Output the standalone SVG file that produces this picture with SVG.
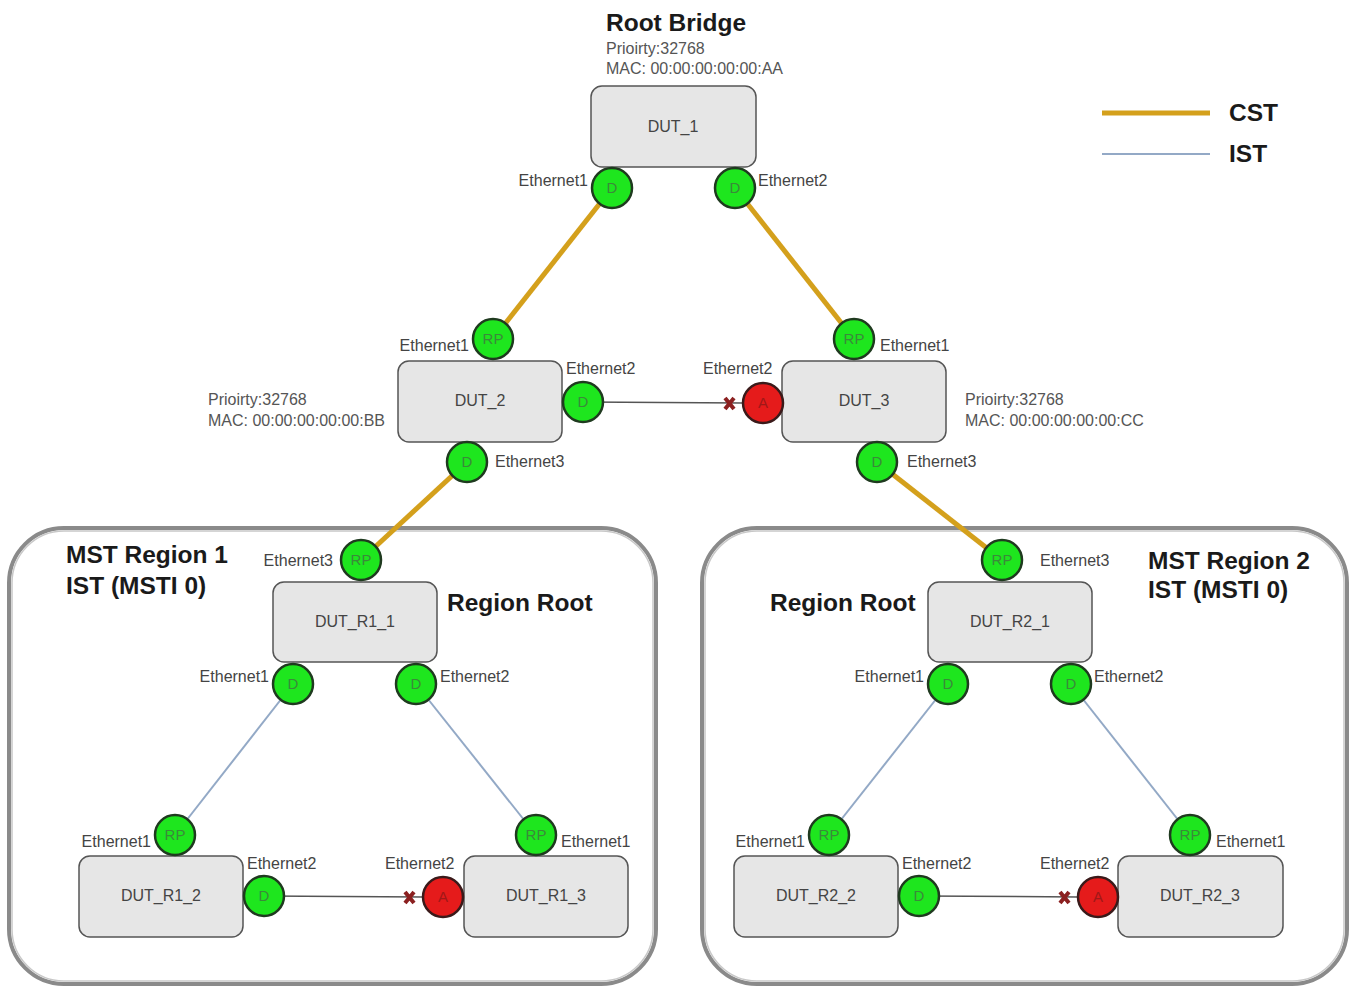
<svg xmlns="http://www.w3.org/2000/svg" width="1351" height="988" viewBox="0 0 1351 988">
<style>
text{font-family:"Liberation Sans",Arial,sans-serif}
.title{font-size:24.5px;font-weight:bold;fill:#1a1a1a}
.info{font-size:16px;fill:#555}
.lbl{font-size:16px;fill:#444}
.dut{fill:#e6e6e6;stroke:#555;stroke-width:1.5}
.dtxt{font-size:16px;fill:#444;text-anchor:middle}
.pg{fill:#1ee61e;stroke:#1f3a1f;stroke-width:2.5}
.pr{fill:#e51b1b;stroke:#3a1a1a;stroke-width:2.5}
.pgt{font-size:15px;fill:#3a8a3a;text-anchor:middle}
.prt{font-size:15px;fill:#a01818;text-anchor:middle}
.cst{stroke:#d4a01c;stroke-width:5;fill:none}
.ist{stroke:#93a9c6;stroke-width:2;fill:none}
.blk{stroke:#555;stroke-width:1.5;fill:none}
.xm{stroke:#8b2020;stroke-width:4}
.region{fill:#fff;stroke:#8a8a8a;stroke-width:4}
.regin{fill:none;stroke:#c8c8c8;stroke-width:1.5}
</style>
<rect width="1351" height="988" fill="#fff"/>
<g id="region1"><rect class="region" x="9" y="528" width="647" height="456" rx="55"/><rect class="regin" x="12" y="531" width="641" height="450" rx="52"/>
<text class="title" x="66" y="563">MST Region 1</text><text class="title" x="66" y="594">IST (MSTI 0)</text></g>
<g id="region2"><rect class="region" x="702" y="528" width="645" height="456" rx="55"/><rect class="regin" x="705" y="531" width="639" height="450" rx="52"/>
<text class="title" x="1148" y="569">MST Region 2</text><text class="title" x="1148" y="598">IST (MSTI 0)</text></g>
<g id="legend">
<line class="cst" x1="1102" y1="113" x2="1210" y2="113"/><text class="title" x="1229" y="121">CST</text>
<line class="ist" x1="1102" y1="154" x2="1210" y2="154"/><text class="title" x="1229" y="162">IST</text>
</g>
<g id="connectors">
<line class="cst" x1="612" y1="188" x2="493" y2="339"/>
<line class="cst" x1="735" y1="188" x2="854" y2="339"/>
<line class="cst" x1="467" y1="462" x2="361" y2="560"/>
<line class="cst" x1="877" y1="462" x2="1002" y2="560"/>
<line class="blk" x1="583" y1="402" x2="743" y2="403"/>
<line class="ist" x1="293" y1="684" x2="175" y2="835"/>
<line class="ist" x1="416" y1="684" x2="536" y2="835"/>
<line class="blk" x1="264" y1="896" x2="423" y2="897"/>
<line class="ist" x1="948" y1="684" x2="829" y2="835"/>
<line class="ist" x1="1071" y1="684" x2="1190" y2="835"/>
<line class="blk" x1="919" y1="896" x2="1078" y2="897"/>
<path class="xm" d="M725 398l9 11M734 398l-9 11"/>
<path class="xm" d="M405 892l9 11M414 892l-9 11"/>
<path class="xm" d="M1060 892l9 11M1069 892l-9 11"/>
</g>
<g id="DUT_1">
<text class="title" x="606" y="31">Root Bridge</text>
<text class="info" x="606" y="54">Prioirty:32768</text>
<text class="info" x="606" y="74">MAC: 00:00:00:00:00:AA</text>
<rect class="dut" x="591" y="86" width="165" height="81" rx="11"/><text class="dtxt" x="673" y="132">DUT_1</text>
<circle class="pg" cx="612" cy="188" r="20"/><text class="pgt" x="612" y="193">D</text><text class="lbl" x="588" y="186" text-anchor="end">Ethernet1</text>
<circle class="pg" cx="735" cy="188" r="20"/><text class="pgt" x="735" y="193">D</text><text class="lbl" x="758" y="186">Ethernet2</text>
</g>
<g id="DUT_2">
<text class="info" x="208" y="405">Prioirty:32768</text>
<text class="info" x="208" y="426">MAC: 00:00:00:00:00:BB</text>
<rect class="dut" x="398" y="361" width="164" height="81" rx="11"/><text class="dtxt" x="480" y="406">DUT_2</text>
<circle class="pg" cx="493" cy="339" r="20"/><text class="pgt" x="493" y="344">RP</text><text class="lbl" x="469" y="351" text-anchor="end">Ethernet1</text>
<circle class="pg" cx="583" cy="402" r="20"/><text class="pgt" x="583" y="407">D</text><text class="lbl" x="566" y="374">Ethernet2</text>
<circle class="pg" cx="467" cy="462" r="20"/><text class="pgt" x="467" y="467">D</text><text class="lbl" x="495" y="467">Ethernet3</text>
</g>
<g id="DUT_3">
<text class="info" x="965" y="405">Prioirty:32768</text>
<text class="info" x="965" y="426">MAC: 00:00:00:00:00:CC</text>
<rect class="dut" x="782" y="361" width="164" height="81" rx="11"/><text class="dtxt" x="864" y="406">DUT_3</text>
<circle class="pg" cx="854" cy="339" r="20"/><text class="pgt" x="854" y="344">RP</text><text class="lbl" x="880" y="351">Ethernet1</text>
<circle class="pr" cx="763" cy="403" r="20"/><text class="prt" x="763" y="408">A</text><text class="lbl" x="703" y="374">Ethernet2</text>
<circle class="pg" cx="877" cy="462" r="20"/><text class="pgt" x="877" y="467">D</text><text class="lbl" x="907" y="467">Ethernet3</text>
</g>
<g id="DUT_R1_1">
<rect class="dut" x="273" y="582" width="164" height="80" rx="11"/><text class="dtxt" x="355" y="627">DUT_R1_1</text>
<text class="title" x="447" y="611">Region Root</text>
<circle class="pg" cx="361" cy="560" r="20"/><text class="pgt" x="361" y="565">RP</text><text class="lbl" x="333" y="566" text-anchor="end">Ethernet3</text>
<circle class="pg" cx="293" cy="684" r="20"/><text class="pgt" x="293" y="689">D</text><text class="lbl" x="269" y="682" text-anchor="end">Ethernet1</text>
<circle class="pg" cx="416" cy="684" r="20"/><text class="pgt" x="416" y="689">D</text><text class="lbl" x="440" y="682">Ethernet2</text>
</g>
<g id="DUT_R1_2">
<rect class="dut" x="79" y="856" width="164" height="81" rx="11"/><text class="dtxt" x="161" y="901">DUT_R1_2</text>
<circle class="pg" cx="175" cy="835" r="20"/><text class="pgt" x="175" y="840">RP</text><text class="lbl" x="151" y="847" text-anchor="end">Ethernet1</text>
<circle class="pg" cx="264" cy="896" r="20"/><text class="pgt" x="264" y="901">D</text><text class="lbl" x="247" y="869">Ethernet2</text>
</g>
<g id="DUT_R1_3">
<rect class="dut" x="464" y="856" width="164" height="81" rx="11"/><text class="dtxt" x="546" y="901">DUT_R1_3</text>
<circle class="pg" cx="536" cy="835" r="20"/><text class="pgt" x="536" y="840">RP</text><text class="lbl" x="561" y="847">Ethernet1</text>
<circle class="pr" cx="443" cy="897" r="20"/><text class="prt" x="443" y="902">A</text><text class="lbl" x="385" y="869">Ethernet2</text>
</g>
<g id="DUT_R2_1">
<rect class="dut" x="928" y="582" width="164" height="80" rx="11"/><text class="dtxt" x="1010" y="627">DUT_R2_1</text>
<text class="title" x="770" y="611">Region Root</text>
<circle class="pg" cx="1002" cy="560" r="20"/><text class="pgt" x="1002" y="565">RP</text><text class="lbl" x="1040" y="566">Ethernet3</text>
<circle class="pg" cx="948" cy="684" r="20"/><text class="pgt" x="948" y="689">D</text><text class="lbl" x="924" y="682" text-anchor="end">Ethernet1</text>
<circle class="pg" cx="1071" cy="684" r="20"/><text class="pgt" x="1071" y="689">D</text><text class="lbl" x="1094" y="682">Ethernet2</text>
</g>
<g id="DUT_R2_2">
<rect class="dut" x="734" y="856" width="164" height="81" rx="11"/><text class="dtxt" x="816" y="901">DUT_R2_2</text>
<circle class="pg" cx="829" cy="835" r="20"/><text class="pgt" x="829" y="840">RP</text><text class="lbl" x="805" y="847" text-anchor="end">Ethernet1</text>
<circle class="pg" cx="919" cy="896" r="20"/><text class="pgt" x="919" y="901">D</text><text class="lbl" x="902" y="869">Ethernet2</text>
</g>
<g id="DUT_R2_3">
<rect class="dut" x="1118" y="856" width="165" height="81" rx="11"/><text class="dtxt" x="1200" y="901">DUT_R2_3</text>
<circle class="pg" cx="1190" cy="835" r="20"/><text class="pgt" x="1190" y="840">RP</text><text class="lbl" x="1216" y="847">Ethernet1</text>
<circle class="pr" cx="1098" cy="897" r="20"/><text class="prt" x="1098" y="902">A</text><text class="lbl" x="1040" y="869">Ethernet2</text>
</g>
</svg>
